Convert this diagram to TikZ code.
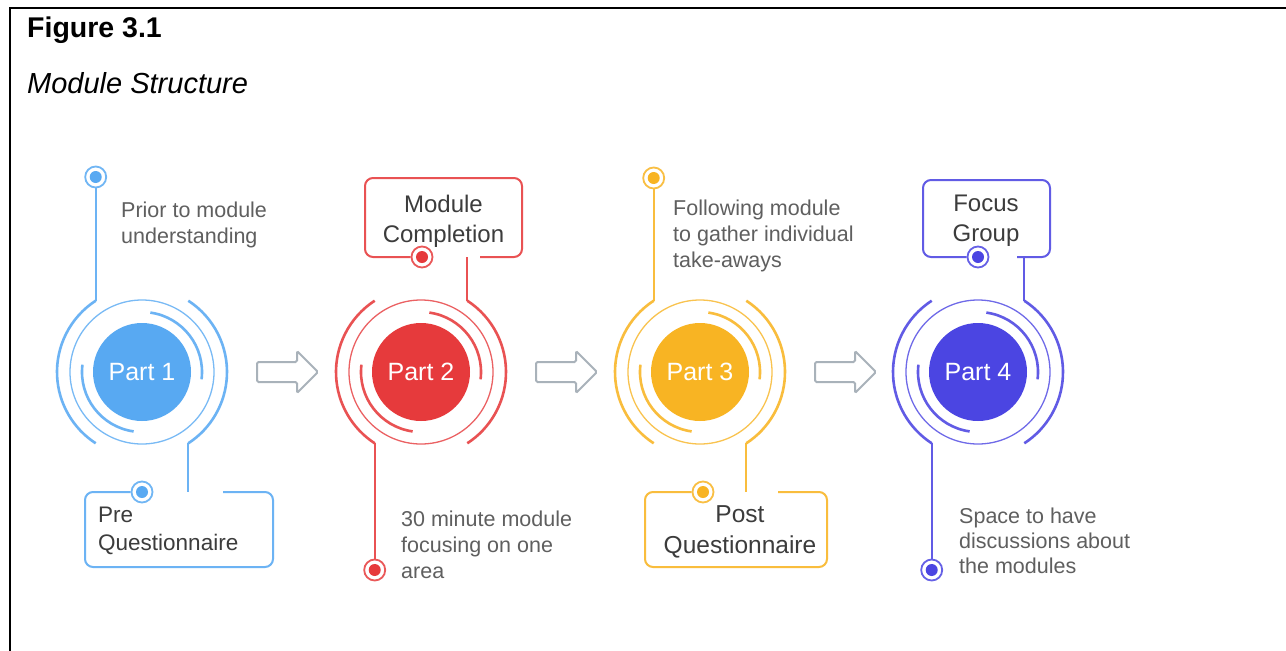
\documentclass[tikz,border=0pt]{standalone}
\usepackage{fontspec}
\setmainfont{Liberation Sans}
\usetikzlibrary{calc,shapes.arrows}

\definecolor{cBlue}{HTML}{58A9F2}
\definecolor{cRed}{HTML}{E63A3C}
\definecolor{cGold}{HTML}{F8B423}
\definecolor{cIndigo}{HTML}{4B45E2}
\definecolor{descgray}{HTML}{5F5F5F}
\definecolor{boxgray}{HTML}{3C3C3C}
\definecolor{arrowgray}{HTML}{A9B2BA}

\tikzset{
  disk/.style={circle, fill=#1, minimum size=98, inner sep=0pt, text=white,
    font=\fontsize{25}{30}\selectfont},
  ring/.style={draw=#1!80, line width=1.3},
  arcline/.style={draw=#1!88, line width=2.6},
  link/.style={draw=#1!88, line width=2.2},
  knob/.style={circle, draw=#1!85, line width=1.8, fill=white, minimum size=21,
    inner sep=0pt, path picture={\fill[#1] (path picture bounding box.center) circle (6pt);}},
  boxline/.style={draw=#1!88, line width=2, rounded corners=8},
  desc/.style={anchor=north west, inner sep=0pt, align=left, text=descgray,
    font=\fontsize{21.5}{26}\selectfont},
  boxtext/.style={anchor=north, inner sep=0pt, align=center, text=boxgray,
    font=\fontsize{24}{30}\selectfont},
  flow/.style={single arrow, draw=arrowgray, line width=2, fill=white,
    minimum height=61, minimum width=40, inner sep=9pt,
    single arrow head extend=11pt, rounded corners=1.5}
}

% one stage: disk, thin ring, inner and outer arcs, plus the arc end points
% #1 name, #2 centre x, #3 colour, #4 label
\newcommand\mystage[4]{%
  \node[disk=#3] (#1) at (#2,372) {#4};
  \draw[ring=#3] (#1.center) circle (72);
  \draw[arcline=#3] ($(#1.center)+(-82:60)$) arc[start angle=-82, end angle=7, radius=60];
  \draw[arcline=#3] ($(#1.center)+(98:60)$) arc[start angle=98, end angle=187, radius=60];
  \draw[arcline=#3] ($(#1.center)+(-123:85)$) arc[start angle=-123, end angle=-237, radius=85];
  \draw[arcline=#3] ($(#1.center)+(-57:85)$) arc[start angle=-57, end angle=57, radius=85];
  \coordinate (#1tl) at ($(#1.center)+(-123:85)$);
  \coordinate (#1tr) at ($(#1.center)+(-57:85)$);
  \coordinate (#1bl) at ($(#1.center)+(123:85)$);
  \coordinate (#1br) at ($(#1.center)+(57:85)$);
}

\begin{document}
\begin{tikzpicture}[x=1pt, y=-1pt]
\useasboundingbox (0,0) rectangle (1286,651);
\fill[white] (0,0) rectangle (1286,651);

% frame
\draw[line width=2] (10,651) -- (10,7.5) -- (1286,7.5);

% heading
\node[anchor=base west, inner sep=0pt, font=\bfseries\fontsize{28.5}{34}\selectfont] (fig) at (27,37) {Figure 3.1};
\node[anchor=base west, inner sep=0pt, font=\itshape\fontsize{29}{34}\selectfont] (cap) at (27,93) {Module Structure};

% stages
\mystage{s1}{142}{cBlue}{Part 1}
\mystage{s2}{421}{cRed}{Part 2}
\mystage{s3}{700}{cGold}{Part 3}
\mystage{s4}{978}{cIndigo}{Part 4}

% arrows between stages
\node[flow] (f12) at (282.5,372) {};
\node[flow] (f23) at (561.5,372) {};
\node[flow] (f34) at (840.5,372) {};

% Part 1
\node[knob=cBlue] (s1top) at (s1tl |- 0,177) {};
\draw[link=cBlue] (s1top) -- (s1tl);
\node[desc] (s1txt) at (121,201.5) {Prior to module\\understanding};
\node[knob=cBlue] (s1dot) at (142,492) {};
\coordinate (s1gap) at (s1br |- 0,492);
\draw[link=cBlue] (s1br) -- (s1gap);
\draw[boxline=cBlue] (s1dot.west) -- (85,492) -- (85,567) -- (273,567) -- (273,492) -- (223,492);
\node[boxtext, anchor=north west, align=left, font=\fontsize{22.5}{28}\selectfont] (s1box) at (98,507) {Pre\\Questionnaire};

% Part 2
\node[knob=cRed] (s2dot) at (422,257) {};
\draw[boxline=cRed] (s2dot.west) -- (365,257) -- (365,178) -- (522,178) -- (522,257) -- (480,257);
\node[boxtext] (s2box) at (443.5,195) {Module\\Completion};
\coordinate (s2gap) at (s2tr |- 0,257);
\draw[link=cRed] (s2gap) -- (s2tr);
\node[knob=cRed] (s2bot) at (s2bl |- 0,570) {};
\draw[link=cRed] (s2bl) -- (s2bot);
\node[desc] (s2txt) at (401,510.5) {30 minute module\\focusing on one\\area};

% Part 3
\node[knob=cGold] (s3top) at (s3tl |- 0,178) {};
\draw[link=cGold] (s3top) -- (s3tl);
\node[desc] (s3txt) at (673,200) {Following module\\to gather individual\\take-aways};
\node[knob=cGold] (s3dot) at (703,492) {};
\coordinate (s3gap) at (s3br |- 0,492);
\draw[link=cGold] (s3br) -- (s3gap);
\draw[boxline=cGold] (s3dot.west) -- (645,492) -- (645,567) -- (827,567) -- (827,492) -- (778,492);
\node[boxtext, font=\fontsize{24.5}{31}\selectfont] (s3box) at (740,505) {Post\\Questionnaire};

% Part 4
\node[knob=cIndigo] (s4dot) at (978,257) {};
\draw[boxline=cIndigo] (s4dot.west) -- (923,257) -- (923,180) -- (1050,180) -- (1050,257) -- (1017,257);
\node[boxtext] (s4box) at (986,195) {Focus\\Group};
\coordinate (s4gap) at (s4tr |- 0,257);
\draw[link=cIndigo] (s4gap) -- (s4tr);
\node[knob=cIndigo] (s4bot) at (s4bl |- 0,570) {};
\draw[link=cIndigo] (s4bl) -- (s4bot);
\node[desc, font=\fontsize{21.5}{25}\selectfont] (s4txt) at (959,508) {Space to have\\discussions about\\the modules};
\end{tikzpicture}
\end{document}
